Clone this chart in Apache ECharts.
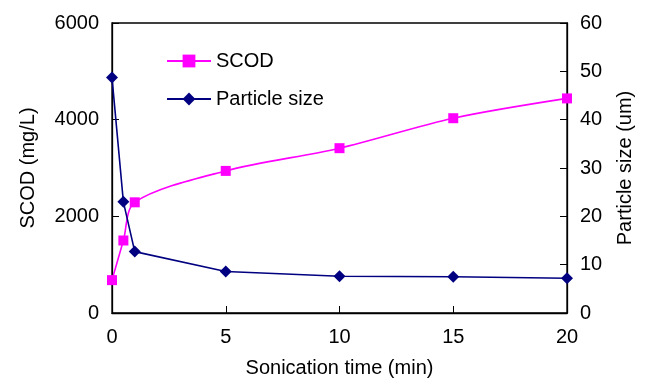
<!DOCTYPE html>
<html><head><meta charset="utf-8">
<script src="https://cdn.jsdelivr.net/npm/echarts@6/dist/echarts.min.js"></script>
<style>html,body{margin:0;padding:0;background:#fff}#c{width:645px;height:378px}</style>
</head><body><div id="c"></div>
<script>
const times = [0, 0.5, 1, 5, 10, 15, 20];
const scod = [680, 1500, 2290, 2940, 3410, 4030, 4440];
const particleSize = [48.7, 23.0, 12.7, 8.6, 7.6, 7.5, 7.2];
const xTicks = [0, 5, 10, 15, 20];

const chart = echarts.init(document.getElementById('c'));
const font = 'Liberation Sans, Arial, sans-serif';
const fs = 20;
const axisCommon = {
  axisLine: {show: true, lineStyle: {color: '#000', width: 1.3}},
  axisTick: {show: true, inside: true, length: 7, lineStyle: {color: '#000'}},
  splitLine: {show: false},
  axisLabel: {color: '#000', fontSize: fs, fontFamily: font, formatter: v => String(v)},
  nameTextStyle: {color: '#000', fontSize: fs, fontFamily: font}
};
chart.setOption({
  animation: false,
  grid: {left: 112, right: 78, top: 23, bottom: 65, show: true, borderColor: '#000', borderWidth: 1.3,
         containLabel: false, outerBoundsMode: 'none'},
  legend: {
    left: 161, top: 46, orient: 'vertical', itemGap: 18, itemWidth: 44, itemHeight: 16,
    textStyle: {color: '#000', fontSize: fs, fontFamily: font},
    data: [{name: 'SCOD'}, {name: 'Particle size'}]
  },
  xAxis: Object.assign({}, axisCommon, {
    type: 'value', min: 0, max: 20, interval: 5,
    name: 'Sonication time (min)', nameLocation: 'middle', nameGap: 45,
    axisLabel: Object.assign({}, axisCommon.axisLabel, {margin: 14,
      formatter: v => xTicks.includes(v) ? String(v) : ''})
  }),
  yAxis: [
    Object.assign({}, axisCommon, {
      type: 'value', min: 0, max: 6000, interval: 2000,
      name: 'SCOD (mg/L)', nameLocation: 'middle', nameGap: 74,
      axisLabel: Object.assign({}, axisCommon.axisLabel, {margin: 13})
    }),
    Object.assign({}, axisCommon, {
      type: 'value', min: 0, max: 60, interval: 10, position: 'right',
      name: 'Particle size (um)', nameLocation: 'middle', nameGap: 48, nameRotate: 90,
      axisLabel: Object.assign({}, axisCommon.axisLabel, {margin: 13})
    })
  ],
  series: [
    {
      name: 'SCOD', type: 'line', yAxisIndex: 0, smooth: 0.3,
      data: times.map((t, i) => [t, scod[i]]),
      symbol: 'rect', symbolSize: 10,
      lineStyle: {color: '#FF00FF', width: 1.6},
      itemStyle: {color: '#FF00FF'}
    },
    {
      name: 'Particle size', type: 'line', yAxisIndex: 1,
      data: times.map((t, i) => [t, particleSize[i]]),
      symbol: 'diamond', symbolSize: 12,
      lineStyle: {color: '#000080', width: 1.6},
      itemStyle: {color: '#000080'}
    }
  ]
});
</script></body></html>
